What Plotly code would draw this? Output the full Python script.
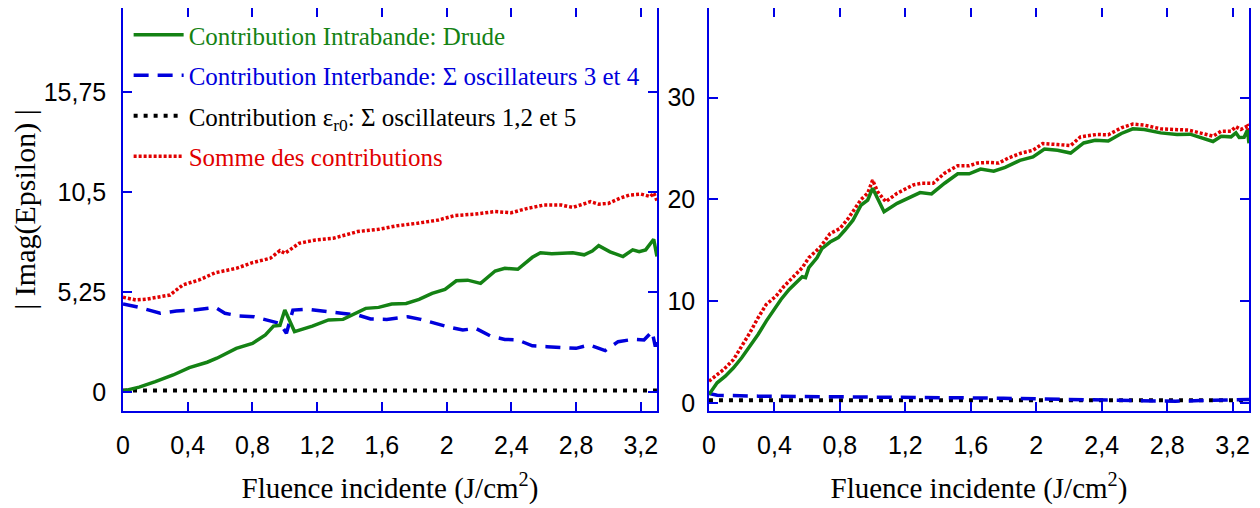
"""Imag(Epsilon) contributions vs incident fluence, two panels"""

import plotly.graph_objects as go

# ---- left panel data ----
left_x_drude = [0, 0.1, 0.2, 0.31, 0.41, 0.52, 0.58, 0.70, 0.80, 0.88, 0.93, 0.97, 1.00, 1.06,
                1.17, 1.27, 1.36, 1.50, 1.58, 1.66, 1.75, 1.83, 1.91, 1.99, 2.06, 2.13, 2.21,
                2.30, 2.36, 2.44, 2.53, 2.58, 2.65, 2.78, 2.85, 2.90, 2.94, 3.01, 3.09, 3.15,
                3.19, 3.23, 3.28, 3.30]
left_drude = [0.05, 0.25, 0.54, 0.89, 1.28, 1.56, 1.77, 2.29, 2.55, 2.99, 3.46, 3.50, 4.30, 3.17,
              3.46, 3.78, 3.81, 4.39, 4.44, 4.62, 4.65, 4.86, 5.18, 5.39, 5.84, 5.87, 5.70,
              6.35, 6.49, 6.44, 7.07, 7.31, 7.26, 7.31, 7.20, 7.40, 7.68, 7.36, 7.11, 7.46,
              7.36, 7.46, 8.02, 7.11]

left_x_inter = [0, 0.1, 0.23, 0.33, 0.44, 0.57, 0.63, 0.72, 0.81, 0.91, 0.97, 1.01, 1.05, 1.14,
                1.24, 1.35, 1.45, 1.53, 1.63, 1.76, 1.84, 1.94, 2.02, 2.10, 2.18, 2.27, 2.36,
                2.44, 2.53, 2.62, 2.73, 2.80, 2.88, 2.98, 3.06, 3.15, 3.22, 3.27, 3.29, 3.30]
left_inter = [4.62, 4.44, 4.13, 4.25, 4.30, 4.44, 4.13, 3.99, 3.95, 3.74, 3.60, 3.08, 4.30, 4.34,
              4.22, 4.13, 4.04, 3.83, 3.81, 3.95, 3.81, 3.57, 3.39, 3.25, 3.34, 2.94, 2.76,
              2.73, 2.42, 2.38, 2.35, 2.29, 2.47, 2.17, 2.64, 2.76, 2.73, 3.17, 2.38, 2.80]

left_x_eps = [0, 0.5, 1.0, 1.5, 2.0, 2.5, 3.0, 3.3]
left_eps = [0.08, 0.08, 0.08, 0.08, 0.08, 0.08, 0.08, 0.08]

left_x_sum = [0, 0.08, 0.15, 0.29, 0.37, 0.47, 0.57, 0.70, 0.80, 0.91, 0.97, 1.00, 1.09, 1.19,
              1.30, 1.37, 1.45, 1.58, 1.69, 1.82, 1.95, 2.05, 2.18, 2.30, 2.40, 2.50, 2.60,
              2.71, 2.78, 2.89, 2.94, 3.00, 3.07, 3.13, 3.20, 3.26, 3.28, 3.30]
left_sum = [4.97, 4.83, 4.88, 5.09, 5.62, 5.88, 6.26, 6.49, 6.79, 7.02, 7.42, 7.28, 7.81, 7.98,
            8.07, 8.24, 8.42, 8.54, 8.72, 8.86, 9.03, 9.26, 9.34, 9.47, 9.41, 9.64, 9.81,
            9.81, 9.69, 9.99, 9.86, 9.90, 10.17, 10.34, 10.39, 10.26, 10.45, 10.05]

# ---- right panel data ----
right_x_drude = [0, 0.02, 0.05, 0.10, 0.15, 0.20, 0.25, 0.30, 0.35, 0.40, 0.44, 0.49, 0.54, 0.57,
                 0.59, 0.61, 0.66, 0.69, 0.74, 0.79, 0.83, 0.88, 0.93, 0.97, 1.00, 1.07, 1.15,
                 1.22, 1.29, 1.36, 1.44, 1.52, 1.59, 1.66, 1.74, 1.81, 1.90, 1.98, 2.05, 2.13,
                 2.21, 2.29, 2.36, 2.44, 2.52, 2.59, 2.66, 2.76, 2.86, 2.94, 3.02, 3.08, 3.13,
                 3.19, 3.22, 3.24, 3.27, 3.29, 3.30]
right_drude = [0.82, 1.31, 1.97, 2.62, 3.44, 4.43, 5.57, 6.72, 8.03, 9.18, 10.16, 11.15, 11.97, 12.39,
               12.30, 13.28, 14.26, 15.15, 15.80, 16.24, 16.96, 17.95, 19.44, 19.93, 21.09, 18.78, 19.60,
               20.10, 20.66, 20.53, 21.58, 22.51, 22.51, 22.97, 22.77, 23.14, 23.83, 24.16, 24.95, 24.82,
               24.55, 25.54, 25.81, 25.74, 26.47, 26.93, 26.86, 26.53, 26.37, 26.40, 25.94, 25.68, 26.20,
               26.14, 26.53, 26.07, 26.10, 26.80, 25.50]

right_x_inter = [0, 0.05, 0.3, 0.5, 0.8, 1.1, 1.5, 1.8, 2.0, 2.3, 2.6, 2.7, 2.85, 3.0, 3.15, 3.3]
right_inter = [0.92, 0.75, 0.66, 0.62, 0.60, 0.55, 0.50, 0.45, 0.40, 0.33, 0.30, 0.26, 0.16, 0.22,
               0.30, 0.33]

right_x_eps = [0, 0.5, 1.0, 1.5, 2.0, 2.5, 3.0, 3.3]
right_eps = [0.25, 0.25, 0.25, 0.25, 0.25, 0.25, 0.25, 0.25]

right_x_sum = [0, 0.04, 0.09, 0.15, 0.20, 0.25, 0.30, 0.35, 0.41, 0.46, 0.52, 0.57, 0.61, 0.65,
               0.68, 0.74, 0.80, 0.85, 0.90, 0.93, 0.97, 1.00, 1.03, 1.08, 1.15, 1.25, 1.30,
               1.37, 1.44, 1.52, 1.59, 1.64, 1.71, 1.77, 1.83, 1.91, 1.98, 2.04, 2.13, 2.21,
               2.27, 2.37, 2.44, 2.52, 2.59, 2.66, 2.76, 2.83, 2.93, 3.00, 3.08, 3.13, 3.19,
               3.22, 3.25, 3.29, 3.30]
right_sum = [2.13, 2.62, 3.28, 4.26, 5.57, 6.89, 8.36, 9.67, 10.49, 11.48, 12.46, 13.28, 14.26, 14.92,
             15.30, 16.63, 17.13, 18.10, 19.27, 20.00, 20.60, 21.90, 20.76, 19.77, 20.60, 21.42, 21.58,
             21.58, 22.57, 23.30, 23.30, 23.56, 23.63, 23.56, 24.06, 24.55, 24.82, 25.48, 25.38, 25.28,
             26.14, 26.37, 26.34, 27.03, 27.39, 27.29, 26.93, 26.86, 26.80, 26.53, 26.20, 26.70, 26.70,
             27.13, 26.86, 27.20, 26.20]

x_ticks = [0, 0.4, 0.8, 1.2, 1.6, 2, 2.4, 2.8, 3.2]
x_ticklabels = ['0', '0,4', '0,8', '1,2', '1,6', '2', '2,4', '2,8', '3,2']
left_y_ticks = [0, 5.25, 10.5, 15.75]
left_y_ticklabels = ['0', '5,25', '10,5', '15,75']
right_y_ticks = [0, 10, 20, 30]

names = ['Contribution Intrabande: Drude',
         'Contribution Interbande: Σ oscillateurs 3 et 4',
         'Contribution ε<sub>r0</sub>: Σ oscillateurs 1,2 et 5',
         'Somme des contributions']

GREEN = 'rgb(20,130,20)'
BLUE = 'rgb(0,0,220)'
BLACK = 'black'
RED = 'rgb(225,0,0)'
FRAME = 'rgb(0,0,230)'

styles = [dict(color=GREEN, width=3.5),
          dict(color=BLUE, width=3.5, dash='15px,9px'),
          dict(color=BLACK, width=4, dash='4px,6px'),
          dict(color=RED, width=3.5, dash='3px,2px')]

fig = go.Figure()

left_series = [(left_x_drude, left_drude), (left_x_inter, left_inter),
               (left_x_eps, left_eps), (left_x_sum, left_sum)]
right_series = [(right_x_drude, right_drude), (right_x_inter, right_inter),
                (right_x_eps, right_eps), (right_x_sum, right_sum)]

# draw order: sum first, drude last; legend order via legendrank
for i in [3, 2, 1, 0]:
    xs, ys = left_series[i]
    label = '<span style="color:%s">%s</span>' % (styles[i]['color'], names[i])
    fig.add_trace(go.Scatter(x=xs, y=ys, mode='lines', line=styles[i], name=label,
                             legendgroup=str(i), legendrank=i + 1,
                             xaxis='x', yaxis='y'))
for i in [3, 2, 1, 0]:
    xs, ys = right_series[i]
    fig.add_trace(go.Scatter(x=xs, y=ys, mode='lines', line=styles[i], showlegend=False,
                             xaxis='x2', yaxis='y2'))

axis_common = dict(showline=True, linecolor=FRAME, linewidth=1.5, mirror='ticks',
                   ticks='inside', tickcolor=FRAME, ticklen=9, tickwidth=1.5,
                   showgrid=False, zeroline=False, automargin=False,
                   tickfont=dict(family='Liberation Sans', size=25, color='black'))

x_title = dict(text='Fluence incidente (J/cm<sup>2</sup>)',
               font=dict(family='Liberation Serif', size=29, color='black'), standoff=20)

# the page body adds an 8px margin, so the figure is 8px smaller and margins shifted
fig.update_layout(
    width=1252, height=500,
    paper_bgcolor='white', plot_bgcolor='white',
    margin=dict(l=115, r=11, t=0, b=97),
    xaxis=dict(domain=[0, 0.4742], range=[0, 3.3], tickvals=x_ticks, ticktext=x_ticklabels,
               ticklabelstandoff=11, title=x_title, anchor='y', **axis_common),
    yaxis=dict(range=[-1.0, 20.16], tickvals=left_y_ticks, ticktext=left_y_ticklabels,
               ticklabelstandoff=10, anchor='x',
               title=dict(text='| Imag(Epsilon) |',
                          font=dict(family='Liberation Serif', size=30, color='black'),
                          standoff=4),
               **axis_common),
    xaxis2=dict(domain=[0.5204, 1.0], range=[0, 3.3], tickvals=x_ticks, ticktext=x_ticklabels,
                ticklabelstandoff=11, title=x_title, anchor='y2', **axis_common),
    yaxis2=dict(range=[-0.8, 38.8], tickvals=right_y_ticks, ticklabelstandoff=7, anchor='x2',
                **axis_common),
    showlegend=True,
    legend=dict(x=0.005, y=0.99, xanchor='left', yanchor='top', bgcolor='rgba(0,0,0,0)',
                font=dict(family='Liberation Serif', size=25), tracegroupgap=5,
                itemwidth=50),
)

fig.write_html("out.html")
